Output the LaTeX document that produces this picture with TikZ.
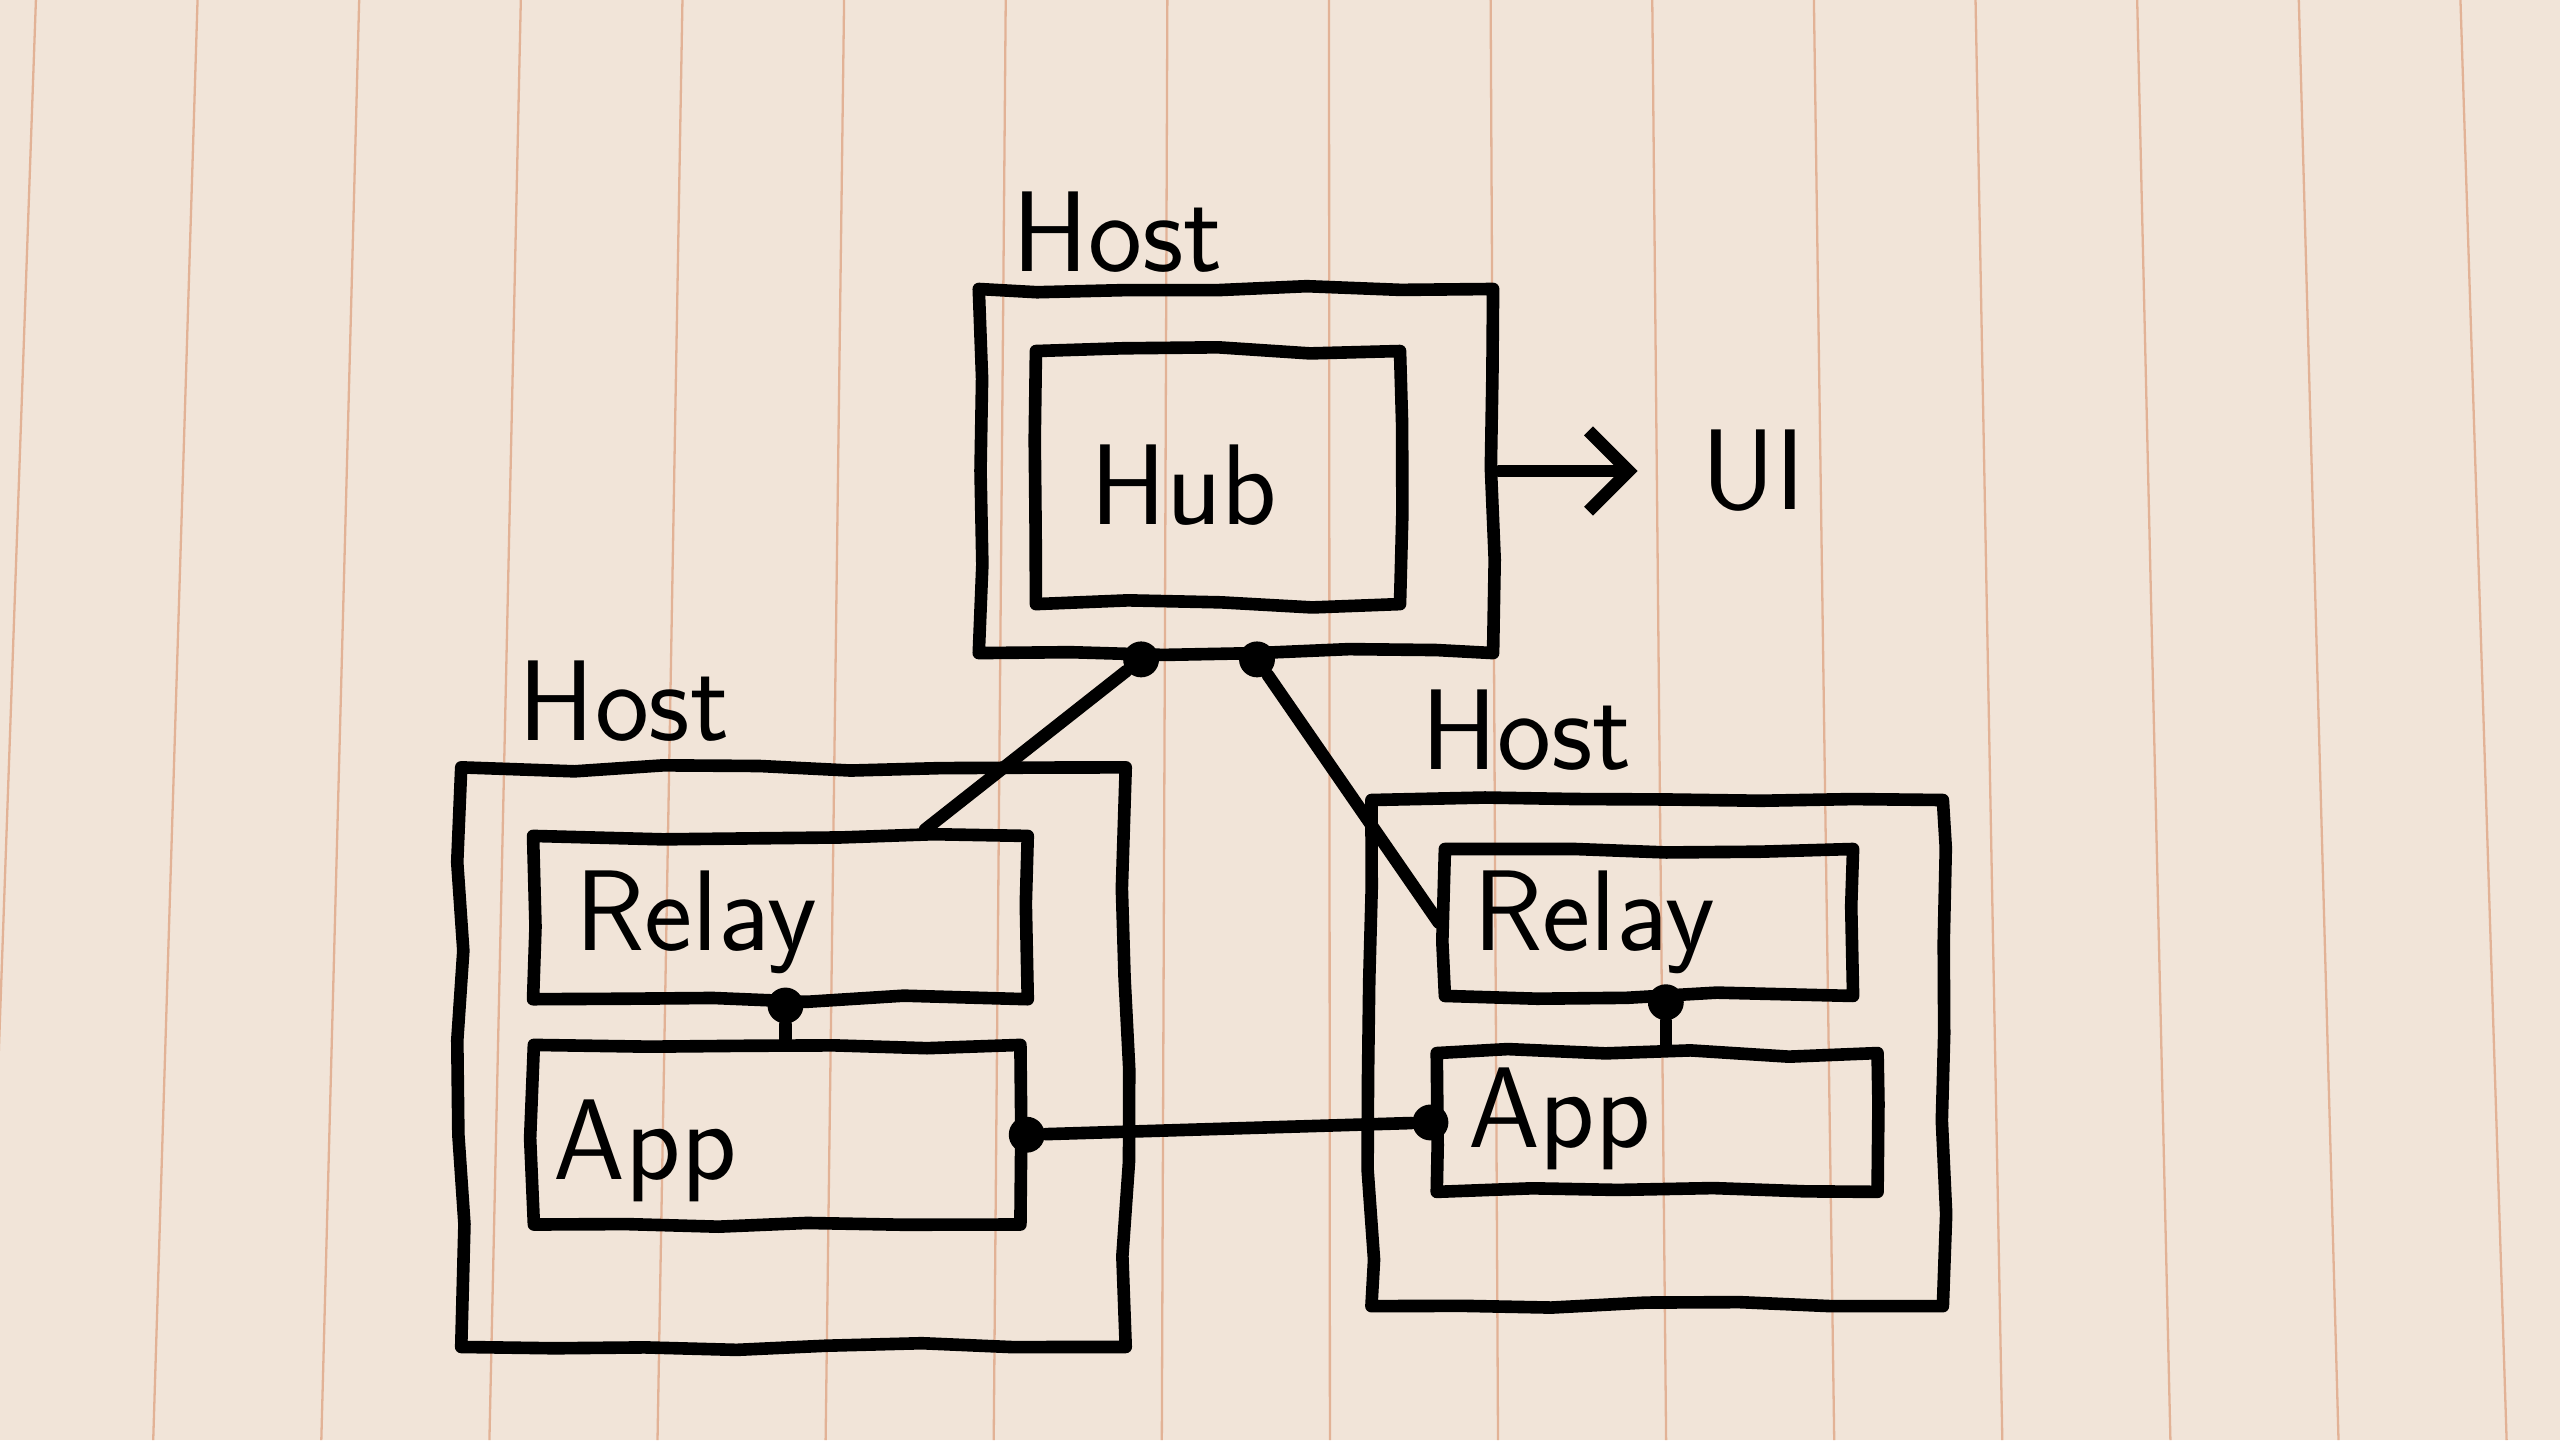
\documentclass[tikz,border=0pt]{standalone}
\usepackage{tikz}
\usetikzlibrary{calc,positioning,arrows.meta,decorations.pathmorphing}
\definecolor{paper}{RGB}{241,228,216}
\definecolor{rule}{RGB}{226,178,150}
\tikzset{
  ink/.style={line width=2.2pt, black, line cap=round, line join=round},
  box/.style={ink, draw, rectangle, inner sep=0pt,
    decorate, decoration={random steps, segment length=16pt, amplitude=0.7pt}},
  lbl/.style={font=\sffamily\fontsize{20}{22}\selectfont, inner sep=1pt},
  pin/.style={circle, fill=black, inner sep=0pt, minimum size=0.22cm},
  wire/.style={ink}
}
\begin{document}
\begin{tikzpicture}
\pgfmathsetseed{7}
\useasboundingbox (0,0) rectangle (15.68,8.82);
%paper
\fill[paper] (0,0) rectangle (15.68,8.82);
\foreach \i in {0,...,15}{
  \pgfmathsetmacro{\xt}{0.22+0.99*\i}
  \draw[rule, line width=0.4pt] (\xt,8.82) -- ({\xt+(\xt-8)*0.04},0);
}
%hosts
\node[box, minimum width=3.15cm, minimum height=2.23cm] (hostT) at (7.57,5.935) {};
\node[box, minimum width=4.07cm, minimum height=3.55cm] (hostL) at (4.86,2.345) {};
\node[box, minimum width=3.50cm, minimum height=3.10cm] (hostR) at (10.15,2.37) {};
\node[lbl, above right=0.02cm and 0.2cm of hostT.north west] (hostTlbl) {Host};
\node[lbl, above right=0.08cm and 0.35cm of hostL.north west] (hostLlbl) {Host};
\node[lbl, above right=0.1cm and 0.3cm of hostR.north west] (hostRlbl) {Host};
%hub
\node[box, minimum width=2.23cm, minimum height=1.55cm] (hub) at (7.46,5.895) {};
\node[lbl] (hubtxt) at (7.25,5.85) {Hub};
%left host
\node[box, minimum width=3.03cm, minimum height=1.00cm] (relayL) at (4.78,3.20) {};
\node[box, minimum width=2.98cm, minimum height=1.10cm] (appL) at (4.76,1.87) {};
\node[lbl, anchor=west] (relayLtxt) at (3.48,3.17) {Relay};
\node[lbl, anchor=west] (appLtxt) at (3.35,1.77) {App};
%right host
\node[box, minimum width=2.50cm, minimum height=0.90cm] (relayR) at (10.10,3.17) {};
\node[box, minimum width=2.70cm, minimum height=0.85cm] (appR) at (10.15,1.945) {};
\node[lbl, anchor=west] (relayRtxt) at (8.98,3.17) {Relay};
\node[lbl, anchor=west] (appRtxt) at (8.95,1.97) {App};
%ui
\node[lbl, anchor=west] (ui) at (10.38,5.935) {UI};
\draw[wire, -{Straight Barb[length=7pt, width=14pt, line width=2.2pt]}, shorten >=0.35cm] (hostT.east) -- (ui.west);
%pins
\node[pin] (pT1) at ($(hostT.south west)!0.32!(hostT.south east)$) {};
\node[pin] (pT2) at ($(hostT.south west)!0.54!(hostT.south east)$) {};
\node[pin] (pL1) at ($(relayL.south west)!0.51!(relayL.south east)$) {};
\node[pin] (pL2) at (appL.east) {};
\node[pin] (pR1) at ($(relayR.south west)!0.54!(relayR.south east)$) {};
\node[pin] (pR2) at (appR.west) {};
\coordinate (relayLtop) at ($(relayL.north west)!0.785!(relayL.north east)$);
%links
\draw[wire] (pT1) -- (relayLtop);
\draw[wire] (pT2) -- (relayR.west);
\draw[wire] (pL1) -- (pL1|-appL.north);
\draw[wire] (pR1) -- (pR1|-appR.north);
\draw[wire] (pL2) -- (pR2);
\end{tikzpicture}
\end{document}
